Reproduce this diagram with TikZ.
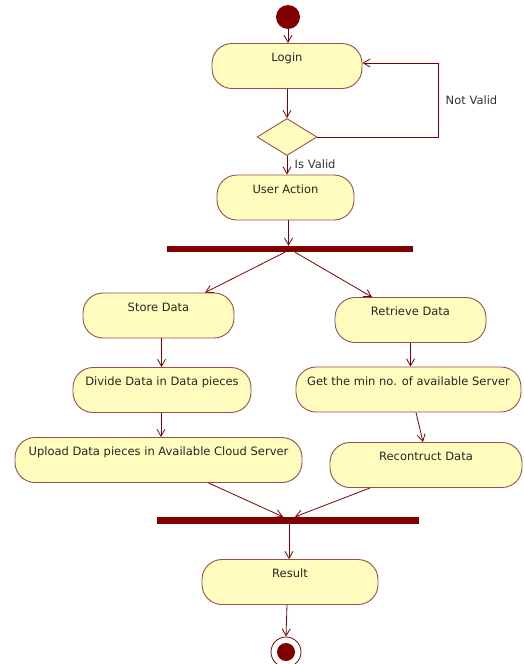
\documentclass[tikz,border=0pt]{standalone}
\usepackage{fontspec}
\setmainfont{DejaVu Sans}
\usepackage{xcolor}
\usetikzlibrary{shapes,shapes.geometric,arrows.meta,positioning,calc}

\definecolor{umlred}{RGB}{128,0,0}
\definecolor{umledge}{RGB}{150,80,80}
\definecolor{umlfill}{RGB}{255,252,190}

\begin{document}
\begin{tikzpicture}[
    x=1pt, y=-1pt,
    activity/.style={rectangle, draw=umledge, fill=umlfill, line width=0.9pt, rounded corners=20pt, minimum height=45pt, inner sep=0pt, text height=14pt, text depth=23pt, font=\fontsize{11.5}{13}\selectfont, text=black!85},
    decision/.style={diamond, draw=umledge, fill=umlfill, line width=0.9pt, minimum width=60pt, minimum height=37pt, inner sep=0pt},
    bar/.style={rectangle, fill=umlred, inner sep=0pt},
    arrow/.style={-{Straight Barb[length=7pt, width=8pt]}, draw=umlred, line width=0.8pt},
    label/.style={font=\fontsize{11.5}{13}\selectfont, text=black!80}
]
    \useasboundingbox (0,0) rectangle (523,664);

    % Start and login
    \node[circle, fill=umlred, minimum size=24pt, inner sep=0pt] (start) at (288,17) {};
    \node[activity, minimum width=150pt] (login) at (287,66) {Login};
    \node[decision] (valid) at (287,137) {};
    \node[activity, minimum width=137pt] (action) at (285.5,197.5) {User Action};

    % Fork
    \node[bar, minimum width=246pt, minimum height=6pt] (fork) at (290,249) {};

    % Store branch
    \node[activity, minimum width=151pt] (store) at (158.5,315.5) {Store Data};
    \node[activity, minimum width=178pt] (divide) at (162,390) {Divide Data in Data pieces};
    \node[activity, minimum width=287pt] (upload) at (158.5,460) {Upload Data pieces in Available Cloud Server};

    % Retrieve branch
    \node[activity, minimum width=151pt] (retrieve) at (410.5,320) {Retrieve Data};
    \node[activity, minimum width=225pt] (getmin) at (408.5,389.5) {Get the min no. of available Server};
    \node[activity, minimum width=192pt] (rebuild) at (426,465) {Recontruct Data};

    % Join and end
    \node[bar, minimum width=262pt, minimum height=7pt] (join) at (288,520.5) {};
    \node[activity, minimum width=176pt] (result) at (290,582) {Result};
    \node[circle, draw=umlred, fill=white, line width=0.8pt, minimum size=30pt, inner sep=0pt] (stop) at (286,652) {};
    \node[circle, fill=umlred, minimum size=18pt, inner sep=0pt] at (stop) {};

    % Arrows
    \draw[arrow] (start) -- (start |- login.north);
    \draw[arrow] (login) -- (valid.north);
    \draw[arrow] (valid) -- node[right, label, pos=0.45, xshift=4pt] {Is Valid} (valid |- action.north);
    \coordinate (loop) at (438,63);
    \draw[arrow] (valid.east) -| node[right, label, pos=0.75, xshift=4pt] {Not Valid} (loop) -- (login.east |- loop);
    \draw[arrow] ([xshift=3pt]action.south) -- ([xshift=3pt]action.south |- fork.north);
    \draw[arrow] ([xshift=-5pt]fork.south) -- ([xshift=46.5pt]store.north);
    \draw[arrow] ([xshift=5pt]fork.south) -- ([xshift=-38.5pt]retrieve.north);
    \draw[arrow] ([xshift=3pt]store.south) -- ([xshift=3pt]store.south |- divide.north);
    \draw[arrow] ([xshift=-1pt]divide.south) -- ([xshift=-1pt]divide.south |- upload.north);
    \draw[arrow] (retrieve.south) -- (retrieve.south |- getmin.north);
    \draw[arrow] ([xshift=7.5pt]getmin.south) -- ([xshift=-3pt]rebuild.north);
    \draw[arrow] ([xshift=50pt]upload.south) -- ([xshift=-5pt]join.north);
    \draw[arrow] ([xshift=-56pt]rebuild.south) -- ([xshift=7pt]join.north);
    \draw[arrow] ([xshift=1pt]join.south) -- ([xshift=-1pt]result.north);
    \draw[arrow] ([xshift=-3pt]result.south) -- (stop.north);
\end{tikzpicture}
\end{document}
